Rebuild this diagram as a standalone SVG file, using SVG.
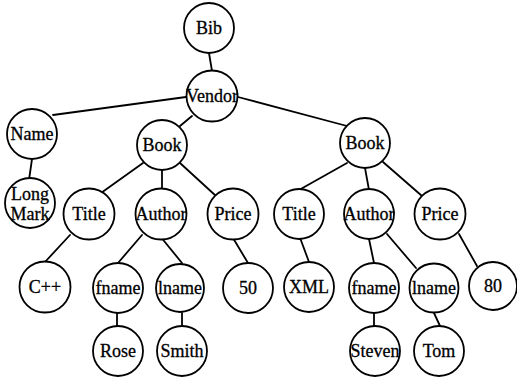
<svg xmlns="http://www.w3.org/2000/svg" width="517" height="378" viewBox="0 0 517 378">
<style>
.e line{stroke:#000;stroke-width:1.8;stroke-linecap:round}
.n circle{fill:#fff;stroke:#000;stroke-width:1.8}
.n text{font-family:"Liberation Serif","Times New Roman",serif;font-size:18px;text-anchor:middle;fill:#000;stroke:#000;stroke-width:0.3}
</style>
<rect width="517" height="378" fill="#fff"/>
<g id="connectors" class="e">
<line x1="209" y1="53" x2="212" y2="71"/>
<line x1="186" y1="97" x2="53" y2="115"/>
<line x1="192" y1="116" x2="180" y2="126"/>
<line x1="238" y1="97" x2="347" y2="126"/>
<line x1="32" y1="159" x2="29" y2="180"/>
<line x1="143" y1="163" x2="101" y2="193"/>
<line x1="162" y1="170" x2="162" y2="190"/>
<line x1="180" y1="163" x2="216" y2="196"/>
<line x1="347" y1="163" x2="299" y2="190"/>
<line x1="365" y1="168" x2="369" y2="190"/>
<line x1="383" y1="162" x2="422" y2="196"/>
<line x1="70" y1="235" x2="45" y2="262"/>
<line x1="142" y1="235" x2="118" y2="263"/>
<line x1="160" y1="236" x2="182" y2="263"/>
<line x1="233" y1="238" x2="248" y2="263"/>
<line x1="117" y1="313" x2="117" y2="326"/>
<line x1="182" y1="313" x2="182" y2="326"/>
<line x1="299" y1="235" x2="309" y2="262"/>
<line x1="369" y1="239" x2="374" y2="263"/>
<line x1="387" y1="234" x2="416" y2="268"/>
<line x1="459" y1="234" x2="477" y2="266"/>
<line x1="374" y1="313" x2="374" y2="326"/>
<line x1="434" y1="313" x2="440" y2="326"/>
</g>
<g id="bib" class="n"><circle cx="209" cy="28" r="25"/><text x="209" y="34">Bib</text></g>
<g id="vendor" class="n"><circle cx="212" cy="96" r="25.5"/><text x="212" y="102">Vendor</text></g>
<g id="name" class="n"><circle cx="32" cy="134" r="25"/><text x="32" y="140">Name</text></g>
<g id="book1" class="n"><circle cx="162" cy="145" r="25"/><text x="162" y="151">Book</text></g>
<g id="book2" class="n"><circle cx="365" cy="143" r="25"/><text x="365" y="149">Book</text></g>
<g id="longmark" class="n"><circle cx="30" cy="203" r="25"/><text x="30" y="200">Long</text><text x="30" y="220">Mark</text></g>
<g id="title1" class="n"><circle cx="89" cy="214" r="25.5"/><text x="89" y="220">Title</text></g>
<g id="author1" class="n"><circle cx="161" cy="214" r="25.5"/><text x="161" y="220">Author</text></g>
<g id="price1" class="n"><circle cx="233" cy="214" r="25.5"/><text x="233" y="220">Price</text></g>
<g id="cpp" class="n"><circle cx="45" cy="287" r="25.5"/><text x="45" y="293">C++</text></g>
<g id="fname1" class="n"><circle cx="118" cy="288" r="25"/><text x="118" y="294">fname</text></g>
<g id="lname1" class="n"><circle cx="180" cy="288" r="24"/><text x="180" y="294">lname</text></g>
<g id="v50" class="n"><circle cx="248" cy="288" r="25"/><text x="248" y="294">50</text></g>
<g id="rose" class="n"><circle cx="118" cy="351" r="25"/><text x="118" y="357">Rose</text></g>
<g id="smith" class="n"><circle cx="182" cy="351" r="25"/><text x="182" y="357">Smith</text></g>
<g id="title2" class="n"><circle cx="299" cy="214" r="25"/><text x="299" y="220">Title</text></g>
<g id="author2" class="n"><circle cx="369" cy="214" r="25"/><text x="369" y="220">Author</text></g>
<g id="price2" class="n"><circle cx="440" cy="214" r="25.5"/><text x="440" y="220">Price</text></g>
<g id="xml" class="n"><circle cx="309" cy="287" r="25"/><text x="309" y="293">XML</text></g>
<g id="fname2" class="n"><circle cx="374" cy="288" r="25"/><text x="374" y="294">fname</text></g>
<g id="lname2" class="n"><circle cx="434" cy="288" r="24.5"/><text x="434" y="294">lname</text></g>
<g id="v80" class="n"><circle cx="493" cy="286" r="24"/><text x="493" y="292">80</text></g>
<g id="steven" class="n"><circle cx="375" cy="351" r="25"/><text x="375" y="357">Steven</text></g>
<g id="tom" class="n"><circle cx="439" cy="351" r="25"/><text x="439" y="357">Tom</text></g>
</svg>
